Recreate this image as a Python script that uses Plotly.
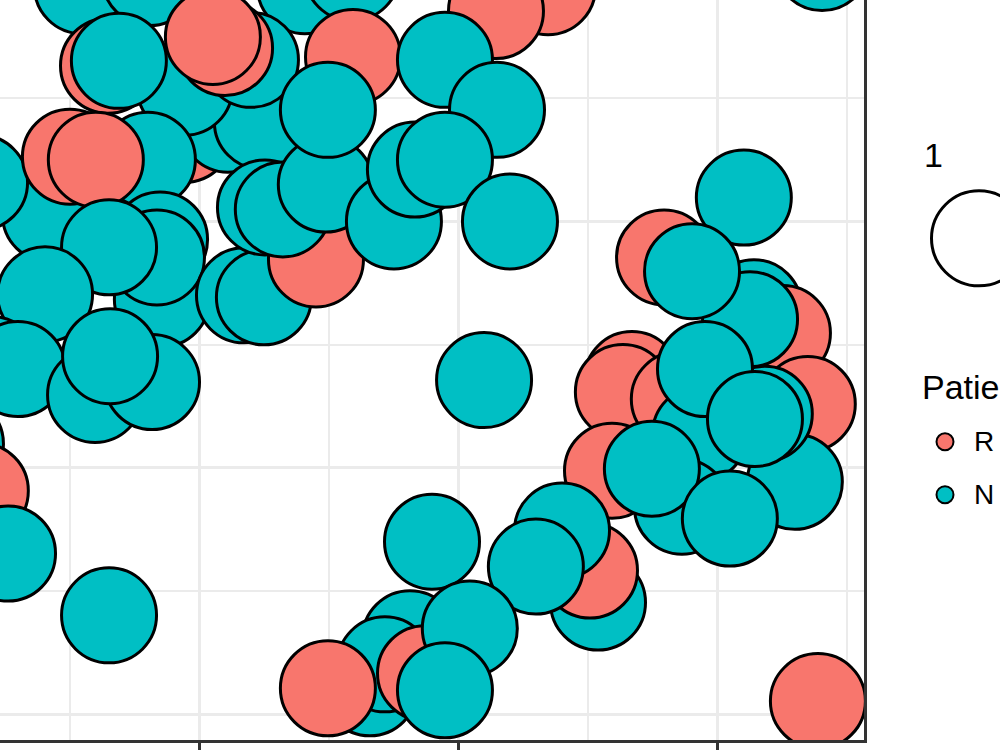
import plotly.graph_objects as go

# ---- data (embedding coordinates, drawn in data order) ----
emb_x = [-4.56, -1.93, 4.05, 5.87, 13.44, 11.43, 24.02,
         -0.58, -3.55, 1.08, 2.39, -0.58, -3.13, 1.97, 0.97, 0.50, 5.91, 9.46, 11.47,
         -5.79, -8.49, -5.02, -2.01, -4.02,
         -1.54, -1.47, -1.66, -3.51, -5.98, -8.03, -7.03, -4.05, -1.85, -3.47,
         1.70, 2.47, 4.48, 2.51, 3.20, 4.86, 4.94, 7.49, 8.30, 9.46, 11.97, 10.97,
         21.00, 21.39, 21.47, 22.51, 21.24, 17.92, 19.00,
         23.47, 16.68, 16.33, 18.49, 19.31, 22.97, 21.81, 19.50, 21.43,
         15.91, 18.61, 17.45, 20.46,
         15.37, 15.06, 13.98, 12.97, 8.96, 8.11, 6.56, 7.14, 8.69, 10.42, 4.94, 9.46,
         -9.42, -8.46, -7.41, -3.51, 23.86]
emb_y = [29.55, 29.88, 29.55, 30.08, 29.51, 28.54, 30.49,
         23.52, 26.32, 23.93, 24.05, 25.43, 26.52, 26.56, 27.04, 27.49, 26.68, 26.56, 24.53,
         20.28, 21.58, 22.63, 22.51, 22.51,
         19.27, 16.84, 18.54, 18.95, 17.04, 14.21, 14.01, 12.96, 13.48, 14.53,
         17.00, 16.92, 18.46, 20.57, 20.49, 21.50, 24.53, 20.00, 22.11, 22.51, 20.00, 13.56,
         20.97, 16.52, 15.59, 15.47, 16.03, 18.54, 17.98,
         12.59, 13.60, 13.08, 12.79, 11.38, 9.43, 12.19, 14.01, 11.98,
         9.88, 8.42, 9.96, 7.94,
         4.53, 5.83, 7.45, 5.99, 7.00, 3.08, 1.05, 2.02, 1.66, 3.48, 1.05, 0.97,
         10.97, 9.07, 6.52, 4.01, 0.53]
group = ["N", "N", "N", "N", "R", "R", "N",
         "R", "R", "N", "N", "N", "N", "N", "R", "R", "R", "N", "N",
         "N", "N", "R", "N", "R",
         "N", "N", "N", "N", "N", "N", "N", "N", "N", "N",
         "N", "N", "R", "N", "N", "N", "N", "N", "N", "N", "N", "N",
         "N", "N", "R", "R", "N", "R", "N",
         "R", "R", "R", "R", "N", "N", "N", "N", "N",
         "R", "N", "N", "N",
         "N", "R", "N", "N", "N", "N", "N", "N", "R", "N", "R", "N",
         "N", "R", "N", "N", "R"]

group_labels = {"R": "R", "N": "N"}
group_colors = {"R": "#F8766D", "N": "#00BFC4"}
legend_order = ["R", "N"]
size_legend_title = "1"
size_legend_label = "1"
fill_legend_title = "Patient"

x_major = [0, 10, 20]
x_minor = [-5, 5, 15, 25]
y_major = [0, 10, 20]
y_minor = [5, 15, 25]
x_range = [-7.72, 25.64]
y_range = [-1.05, 28.99]

# ---- figure ----
W, H = 1000, 750
ML, MR, MT, MB = 0, 136, 0, 8
PW, PH = W - ML - MR, H - MT - MB

def fx(p):
    return p / PW

def fy(p):
    return (PH - p) / PH

fig = go.Figure()
fig.add_trace(go.Scatter(
    x=emb_x, y=emb_y, mode="markers",
    marker=dict(size=95, color=[group_colors[g] for g in group],
                line=dict(color="black", width=3), opacity=1),
    cliponaxis=True, showlegend=False, hoverinfo="skip"))

grid_major = dict(color="#EBEBEB", width=2.6)
grid_minor = dict(color="#EBEBEB", width=1.5)

fig.update_layout(
    width=W, height=H,
    margin=dict(l=ML, r=MR, t=MT, b=MB),
    paper_bgcolor="white", plot_bgcolor="white",
    font=dict(family="Liberation Sans, Arial, sans-serif", color="black"),
    showlegend=False,
    xaxis=dict(range=x_range, tickmode="array", tickvals=x_major,
               showticklabels=False, ticks="outside", ticklen=10, tickwidth=3,
               tickcolor="#333333", showgrid=True,
               gridcolor=grid_major["color"], gridwidth=grid_major["width"],
               minor=dict(tickmode="array", tickvals=x_minor, showgrid=True,
                          gridcolor=grid_minor["color"], gridwidth=grid_minor["width"], ticks=""),
               zeroline=False, showline=True, linecolor="#333333", linewidth=3,
               layer="above traces", fixedrange=True),
    yaxis=dict(range=y_range, tickmode="array", tickvals=y_major, side="right",
               showticklabels=False, ticks="", showgrid=True,
               gridcolor=grid_major["color"], gridwidth=grid_major["width"],
               minor=dict(tickmode="array", tickvals=y_minor, showgrid=True,
                          gridcolor=grid_minor["color"], gridwidth=grid_minor["width"], ticks=""),
               zeroline=False, showline=True, linecolor="#333333", linewidth=3,
               layer="above traces", fixedrange=True),
)

# ---- legends (drawn manually, to the right of the panel) ----
shapes = []
annotations = []
# size legend
annotations.append(dict(text=size_legend_title, x=fx(922), y=fy(155), xref="paper", yref="paper",
                        xanchor="left", yanchor="middle", showarrow=False,
                        font=dict(size=34, color="black")))
shapes.append(dict(type="circle", xref="paper", yref="paper", xsizemode="pixel", ysizemode="pixel",
                   xanchor=fx(979), yanchor=fy(239), x0=-47.5, x1=47.5, y0=-47.5, y1=47.5,
                   fillcolor="white", line=dict(color="black", width=3)))
annotations.append(dict(text=size_legend_label, x=fx(1045), y=fy(239), xref="paper", yref="paper",
                        xanchor="left", yanchor="middle", showarrow=False,
                        font=dict(size=28, color="black")))
# fill legend
annotations.append(dict(text=fill_legend_title, x=fx(920), y=fy(388), xref="paper", yref="paper",
                        xanchor="left", yanchor="middle", showarrow=False,
                        font=dict(size=34, color="black")))
key_y = [443, 496]
for g, ky in zip(legend_order, key_y):
    shapes.append(dict(type="circle", xref="paper", yref="paper", xsizemode="pixel", ysizemode="pixel",
                       xanchor=fx(945), yanchor=fy(ky), x0=-8.5, x1=8.5, y0=-8.5, y1=8.5,
                       fillcolor=group_colors[g], line=dict(color="black", width=2)))
    annotations.append(dict(text=group_labels[g], x=fx(972), y=fy(ky), xref="paper", yref="paper",
                            xanchor="left", yanchor="middle", showarrow=False,
                            font=dict(size=28, color="black")))

fig.update_layout(shapes=shapes, annotations=annotations)
fig.write_html("out.html")
